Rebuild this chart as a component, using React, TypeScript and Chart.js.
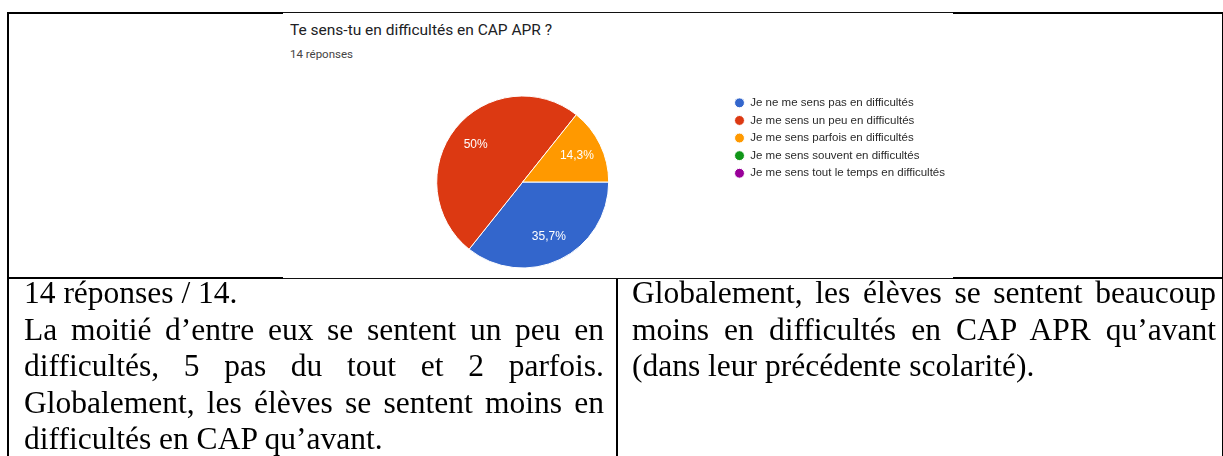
import React, { useEffect, useRef } from "react";
import { Chart, registerables } from "chart.js";

Chart.register(...registerables);

const chartTitle = "Te sens-tu en difficultés en CAP APR ?";
const responseCount = "14 réponses";
const categories = [
  "Je ne me sens pas en difficultés",
  "Je me sens un peu en difficultés",
  "Je me sens parfois en difficultés",
  "Je me sens souvent en difficultés",
  "Je me sens tout le temps en difficultés",
];
const responses = [5, 7, 2, 0, 0];
const sliceColors = ["#3366cc", "#dc3912", "#ff9900", "#109618", "#990099"];

const leftNoteLines = [
  "14 réponses / 14.",
  "La moitié d’entre eux se sentent un peu en",
  "difficultés, 5 pas du tout et 2 parfois.",
  "Globalement, les élèves se sentent moins en",
  "difficultés en CAP qu’avant.",
];
const leftJustified = [false, true, true, true, false];
const rightNoteLines = [
  "Globalement, les élèves se sentent beaucoup",
  "moins en difficultés en CAP APR qu’avant",
  "(dans leur précédente scolarité).",
];
const rightJustified = [true, true, false];

const sliceLabels = {
  id: "sliceLabels",
  afterDatasetsDraw(chart: any) {
    const ctx = chart.ctx;
    const meta = chart.getDatasetMeta(0);
    const data = chart.data.datasets[0].data as number[];
    const total = data.reduce((a, b) => a + b, 0);
    ctx.save();
    ctx.font = "12px 'Liberation Sans', Arial, sans-serif";
    ctx.fillStyle = "#ffffff";
    ctx.textAlign = "center";
    ctx.textBaseline = "middle";
    meta.data.forEach((arc: any, i: number) => {
      const v = data[i];
      if (!v) return;
      const p = arc.getProps(["x", "y", "startAngle", "endAngle", "outerRadius"], true);
      const mid = (p.startAngle + p.endAngle) / 2;
      const r = p.outerRadius * 0.7;
      const pct = Math.round((v / total) * 1000) / 10;
      const txt = String(pct).replace(".", ",") + "%";
      ctx.fillText(txt, p.x + Math.cos(mid) * r, p.y + Math.sin(mid) * r);
    });
    ctx.restore();
  },
};

function PieChart() {
  const ref = useRef<HTMLCanvasElement | null>(null);
  useEffect(() => {
    if (!ref.current) return;
    const chart = new Chart(ref.current, {
      type: "pie",
      data: {
        labels: categories,
        datasets: [
          {
            data: responses,
            backgroundColor: sliceColors,
            borderColor: "#ffffff",
            borderWidth: 1,
            radius: 86,
          },
        ],
      },
      options: {
        responsive: false,
        animation: false,
        rotation: 90,
        layout: { padding: { left: 34, top: 78, right: 0, bottom: 6 } },
        plugins: {
          tooltip: { enabled: false },
          title: { display: false },
          legend: {
            position: "right",
            align: "start",
            labels: {
              usePointStyle: true,
              pointStyle: "circle",
              boxWidth: 10,
              boxHeight: 7,
              padding: 6.1,
              color: "#2a2a2a",
              font: { family: "'Liberation Sans', Arial, sans-serif", size: 11.5 },
            },
          },
        },
      },
      plugins: [sliceLabels],
    } as any);
    return () => chart.destroy();
  }, []);
  return (
    <canvas
      ref={ref}
      width={672}
      height={266}
      style={{ position: "absolute", left: 283, top: 13, width: 672, height: 266 }}
    />
  );
}

const serif = "'Liberation Serif', 'Times New Roman', serif";

function NoteLines({ lines, justified, left, width }: { lines: string[]; justified: boolean[]; left: number; width: number }) {
  return (
    <div
      style={{
        position: "absolute",
        left,
        top: 275,
        width,
        fontFamily: serif,
        fontSize: 31.5,
        lineHeight: "36.5px",
        color: "#000",
      }}
    >
      {lines.map((l, i) => (
        <div
          key={i}
          style={{
            textAlign: justified[i] ? "justify" : "left",
            textAlignLast: justified[i] ? "justify" : "left",
            whiteSpace: "nowrap",
          } as any}
        >
          {l}
        </div>
      ))}
    </div>
  );
}

export default function App() {
  const line = (s: React.CSSProperties) => <div style={{ position: "absolute", background: "#000", ...s }} />;
  return (
    <div
      style={{
        position: "absolute",
        left: 0,
        top: 0,
        width: 1223,
        height: 456,
        overflow: "hidden",
        background: "#fff",
      }}
    >
      {line({ left: 7, top: 12, width: 1216, height: 2 })}
      {line({ left: 7, top: 12, width: 2, height: 444 })}
      {line({ left: 1222, top: 12, width: 1, height: 444 })}
      {line({ left: 7, top: 277, width: 1216, height: 2 })}
      {line({ left: 616, top: 277, width: 2, height: 179 })}
      <div
        style={{
          position: "absolute",
          left: 283,
          top: 12,
          width: 670,
          height: 267,
          boxSizing: "border-box",
          background: "#fff",
          borderTop: "1px solid #111",
          borderBottom: "1px solid #111",
        }}
      />
      <div
        style={{
          position: "absolute",
          left: 290,
          top: 20,
          fontFamily: "Roboto, 'Noto Sans', sans-serif",
          fontSize: 15.5,
          lineHeight: "20px",
          color: "#202124",
          whiteSpace: "nowrap",
        }}
      >
        {chartTitle}
      </div>
      <div
        style={{
          position: "absolute",
          left: 290,
          top: 47,
          fontFamily: "Roboto, 'Noto Sans', sans-serif",
          fontSize: 11.5,
          lineHeight: "15px",
          color: "#444",
          whiteSpace: "nowrap",
        }}
      >
        {responseCount}
      </div>
      <PieChart />
      <NoteLines lines={leftNoteLines} justified={leftJustified} left={24} width={580} />
      <NoteLines lines={rightNoteLines} justified={rightJustified} left={632} width={584} />
    </div>
  );
}
